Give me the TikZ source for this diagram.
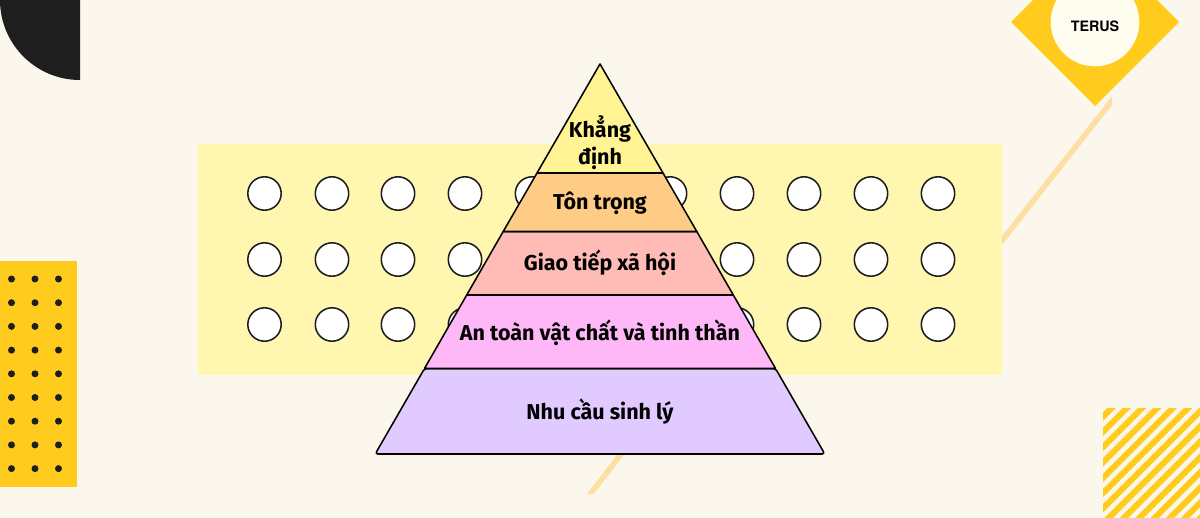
\documentclass[tikz,border=0pt]{standalone}
\usepackage{fontspec}
\usepackage{xcolor}
\setmainfont{Fira Sans}
\newfontfamily\logofont{TeX Gyre Heros}
\definecolor{paper}{HTML}{FCF7EC}
\definecolor{band}{HTML}{FFF6B0}
\definecolor{sun}{HTML}{FFCC1E}
\definecolor{ink}{HTML}{1E1E1E}
\definecolor{beam}{HTML}{FFDEA3}
\definecolor{cream}{HTML}{FFFDF0}
\definecolor{toplayer}{HTML}{FFF394}
\definecolor{orangelayer}{HTML}{FFCC85}
\definecolor{redlayer}{HTML}{FFBBB5}
\definecolor{pinklayer}{HTML}{FFB8F7}
\definecolor{violetlayer}{HTML}{E1CAFF}
\tikzset{
  layer/.style={draw=black,line width=1.1pt,line join=round},
  hole/.style={draw=ink,fill=white,line width=1.1pt},
  lab/.style={anchor=base,font=\fontsize{15.3}{18}\selectfont\bfseries,text=black,inner sep=0pt}
}
\begin{document}
\begin{tikzpicture}[x=0.025cm,y=-0.025cm]
\useasboundingbox (0,0) rectangle (1200,518);
\fill[paper] (0,0) rectangle (1200,518);

% corner shapes
\fill[ink] (0,0) -- (80,0) -- (80,80) arc (90:180:80) -- cycle;
\fill[sun] (0,261) rectangle (77,487);
\foreach \y in {0,...,8}
  \foreach \x in {11.5,35,58.5}
    \fill[ink] (\x,279+23.7*\y) circle (3.5);
\begin{scope}
  \clip (1103,408) rectangle (1200,518);
  \foreach \k in {0,...,14}
    \fill[sun] (1103,408+15.3*\k-11) -- (1103,408+15.3*\k-2.5) -- +(130,-130) -- +(130,-138.5) -- cycle;
\end{scope}

% beams behind the band
\fill[beam] (1112,96) -- (1112,105) -- (990,260.3) -- (990,251.3) -- cycle;
\fill[beam] (587,494) -- (594,494) -- (630,447) -- (623,447) -- cycle;

\fill[band] (198,144) rectangle (1002,375);
\foreach \y in {193.5,259.5,324.5}
  \foreach \x in {264.5,332,398,465,532,670,737,804,871,938}
    \draw[hole] (\x,\y) circle (16.7);

% logo
\begin{scope}
  \clip (0,0) rectangle (1200,518);
  \fill[sun] (1011,22) -- (1095,-62) -- (1179,22) -- (1095,106) -- cycle;
  \fill[cream] (1095,22) circle (44.3);
\end{scope}
\node[anchor=base,font=\logofont\fontsize{10.2}{12}\selectfont\bfseries,inner sep=0pt] (terus) at (1095,31.3) {TERUS};

% pyramid
\draw[layer,fill=violetlayer,rounded corners=2pt] (424.5,368.5) -- (775.5,368.5) -- (824.8,454) -- (375.2,454) -- cycle;
\draw[layer,fill=pinklayer] (466.7,295) -- (733.3,295) -- (775.5,368.5) -- (424.5,368.5) -- cycle;
\draw[layer,fill=redlayer] (503.2,231.5) -- (696.8,231.5) -- (733.3,295) -- (466.7,295) -- cycle;
\draw[layer,fill=orangelayer] (537,173) -- (663,173) -- (696.8,231.5) -- (503.2,231.5) -- cycle;
\draw[layer,fill=toplayer] (600,64) -- (663,173) -- (537,173) -- cycle;

\node[lab] (khang) at (600,137.8) {Khẳng};
\node[lab] (dinh) at (600,164.8) {định};
\node[lab] (tontrong) at (600,209.8) {Tôn trọng};
\node[lab] (giaotiep) at (600,270.8) {Giao tiếp xã hội};
\node[lab] (antoan) at (600,340.8) {An toàn vật chất và tinh thần};
\node[lab] (nhucau) at (600,419.8) {Nhu cầu sinh lý};
\end{tikzpicture}
\end{document}
